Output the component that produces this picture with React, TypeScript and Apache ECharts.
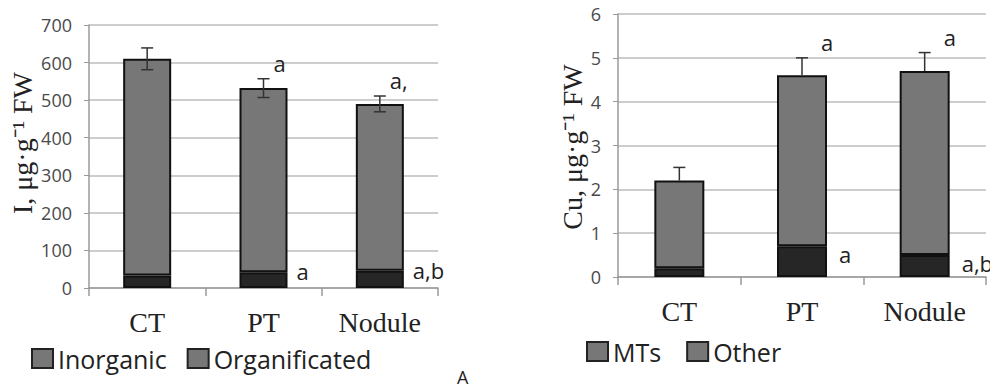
import React, { useEffect, useRef } from "react";
import * as echarts from "echarts";

const categories = ["CT", "PT", "Nodule"];

// Left panel: iodine
const iInorganic = [33, 42, 46];
const iOrganificated = [577, 490, 444];
const iError = [29, 25, 21];
const iTopLetters = ["", "a", "a,"];
const iBaseLetters = ["", "a", "a,b"];
const iTitle = "I, μg·g⁻¹ FW";

// Right panel: copper
const cuMTs = [0.2, 0.7, 0.5];
const cuOther = [2.0, 3.9, 4.2];
const cuError = [0.3, 0.4, 0.42];
const cuTopLetters = ["", "a", "a"];
const cuBaseLetters = ["", "a", "a,b"];
const cuTitle = "Cu, μg·g⁻¹ FW";

const SERIF = "'Liberation Serif', 'Times New Roman', serif";
const SANS = "'Open Sans', 'Noto Sans', sans-serif";

const errorRender = (errs: number[], upOnly: boolean) => (params: any, api: any) => {
  const i = api.value(0);
  const total = api.value(1);
  const e = errs[params.dataIndex];
  const top = api.coord([i, total + e]);
  const bot = api.coord([i, upOnly ? total : total - e]);
  const cap = 6;
  const st = { stroke: "#333", lineWidth: 1.5 };
  const children: any[] = [
    { type: "line", shape: { x1: top[0], y1: top[1], x2: bot[0], y2: bot[1] }, style: st },
    { type: "line", shape: { x1: top[0] - cap, y1: top[1], x2: top[0] + cap, y2: top[1] }, style: st },
  ];
  if (!upOnly) {
    children.push({ type: "line", shape: { x1: bot[0] - cap, y1: bot[1], x2: bot[0] + cap, y2: bot[1] }, style: st });
  }
  return { type: "group", children };
};

const letterRender =
  (
    tops: string[],
    bases: string[],
    errs: number[],
    baseVals: number[],
    off: { tdx: number; tdy: number; bdx: number; bdy: number }
  ) =>
  (params: any, api: any) => {
    const idx = params.dataIndex;
    const i = api.value(0);
    const total = api.value(1);
    const pTop = api.coord([i, total + errs[idx]]);
    const pBase = api.coord([i, baseVals[idx]]);
    const font = `22px ${SANS}`;
    return {
      type: "group",
      children: [
        {
          type: "text",
          x: pTop[0] + off.tdx,
          y: pTop[1] + off.tdy,
          style: { text: tops[idx], fill: "#222", font, align: "left", verticalAlign: "middle" },
        },
        {
          type: "text",
          x: pBase[0] + off.bdx,
          y: pBase[1] + off.bdy,
          style: { text: bases[idx], fill: "#222", font, align: "left", verticalAlign: "middle" },
        },
      ],
    };
  };

const xAxisBase = (gridIndex: number) => ({
  type: "category",
  gridIndex,
  data: categories,
  axisLine: { show: true, lineStyle: { color: "#9a9a9a", width: 1.5 } },
  axisTick: { show: true, length: 8, lineStyle: { color: "#9a9a9a", width: 1.5 } },
  axisLabel: { fontFamily: SERIF, fontSize: 28, color: "#222", margin: 20 },
});

const yAxisBase = (gridIndex: number, max: number, interval: number) => ({
  type: "value",
  gridIndex,
  min: 0,
  max,
  interval,
  axisLine: { show: true, lineStyle: { color: "#9a9a9a", width: 1.5 } },
  axisTick: { show: true, length: 5, lineStyle: { color: "#9a9a9a" } },
  axisLabel: { fontFamily: SANS, fontSize: 18, color: "#4a4a4a", margin: 17 },
  splitLine: { show: true, lineStyle: { color: "#bcbcbc", width: 1.5 } },
});

export default function App() {
  const ref = useRef<HTMLDivElement>(null);

  useEffect(() => {
    document.body.style.margin = "0";
    const chart = echarts.init(ref.current!, null, { renderer: "svg" });
    const iTotals = categories.map((_, i) => [i, iInorganic[i] + iOrganificated[i]]);
    const cuTotals = categories.map((_, i) => [i, cuMTs[i] + cuOther[i]]);
    const darkStyle = { color: "#262626", borderColor: "#111", borderWidth: 2 };
    const grayStyle = { color: "#777", borderColor: "#111", borderWidth: 2 };
    const legendCommon = {
      icon: "rect",
      itemWidth: 21,
      itemHeight: 19,
      itemStyle: { color: "#777", borderColor: "#222", borderWidth: 2 },
      textStyle: { fontFamily: SANS, fontSize: 25, color: "#222" },
      selectedMode: false,
    };
    const titleStyle = { font: `28px ${SERIF}`, fill: "#222", align: "center", verticalAlign: "middle" };

    chart.setOption({
      animation: false,
      backgroundColor: "#fff",
      grid: [
        { left: 89, top: 25, width: 349, height: 263 },
        { left: 618, top: 14, width: 368, height: 263 },
      ],
      xAxis: [xAxisBase(0), xAxisBase(1)],
      yAxis: [yAxisBase(0, 700, 100), yAxisBase(1, 6, 1)],
      legend: [
        { ...legendCommon, left: 26, top: 341, itemGap: 20, data: ["Inorganic", "Organificated"] },
        { ...legendCommon, left: 581, top: 334, itemGap: 25, data: ["MTs", "Other"] },
      ],
      graphic: [
        {
          type: "text",
          x: 22,
          y: 143,
          rotation: Math.PI / 2,
          style: { text: iTitle, ...titleStyle },
        },
        {
          type: "text",
          x: 572,
          y: 147,
          rotation: Math.PI / 2,
          style: { text: cuTitle, ...titleStyle },
        },
        {
          type: "text",
          left: 457,
          top: 368,
          style: { text: "A", font: `18px ${SANS}`, fill: "#222" },
        },
      ],
      series: [
        {
          name: "Inorganic",
          type: "bar",
          xAxisIndex: 0,
          yAxisIndex: 0,
          stack: "i",
          barWidth: 48,
          itemStyle: darkStyle,
          data: iInorganic,
        },
        {
          name: "Organificated",
          type: "bar",
          xAxisIndex: 0,
          yAxisIndex: 0,
          stack: "i",
          barWidth: 48,
          itemStyle: grayStyle,
          data: iOrganificated,
        },
        {
          type: "custom",
          xAxisIndex: 0,
          yAxisIndex: 0,
          z: 5,
          renderItem: errorRender(iError, false),
          data: iTotals,
        },
        {
          type: "custom",
          xAxisIndex: 0,
          yAxisIndex: 0,
          z: 5,
          renderItem: letterRender(iTopLetters, iBaseLetters, iError, iInorganic, {
            tdx: 10,
            tdy: -16,
            bdx: 33,
            bdy: -1,
          }),
          data: iTotals,
        },
        {
          name: "MTs",
          type: "bar",
          xAxisIndex: 1,
          yAxisIndex: 1,
          stack: "cu",
          barWidth: 50,
          itemStyle: darkStyle,
          data: cuMTs,
        },
        {
          name: "Other",
          type: "bar",
          xAxisIndex: 1,
          yAxisIndex: 1,
          stack: "cu",
          barWidth: 50,
          itemStyle: grayStyle,
          data: cuOther,
        },
        {
          type: "custom",
          xAxisIndex: 1,
          yAxisIndex: 1,
          z: 5,
          renderItem: errorRender(cuError, true),
          data: cuTotals,
        },
        {
          type: "custom",
          xAxisIndex: 1,
          yAxisIndex: 1,
          z: 5,
          renderItem: letterRender(cuTopLetters, cuBaseLetters, cuError, cuMTs, {
            tdx: 19,
            tdy: -16,
            bdx: 37,
            bdy: 8,
          }),
          data: cuTotals,
        },
      ],
    });
    return () => chart.dispose();
  }, []);

  return <div ref={ref} style={{ width: 990, height: 387 }} />;
}
